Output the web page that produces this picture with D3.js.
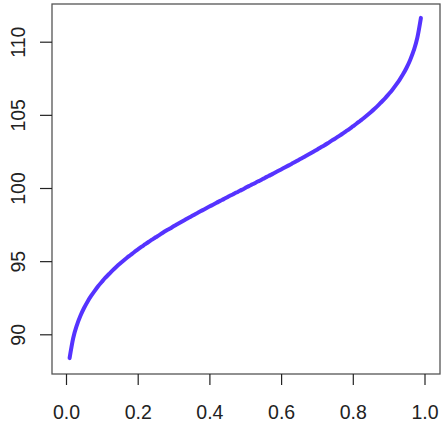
<!DOCTYPE html>
<html><head><meta charset="utf-8">
<script src="https://cdn.jsdelivr.net/npm/d3@7"></script>
<style>body{margin:0;background:#fff}svg{display:block}text{font-family:"Liberation Sans",Arial,sans-serif}</style>
</head><body>
<svg id="c" width="444" height="424"></svg>
<script>
const probs = [0.01,0.02,0.03,0.04,0.05,0.06,0.07,0.08,0.09,0.10,0.11,0.12,0.13,0.14,0.15,0.16,0.17,0.18,0.19,0.20,0.21,0.22,0.23,0.24,0.25,0.26,0.27,0.28,0.29,0.30,0.31,0.32,0.33,0.34,0.35,0.36,0.37,0.38,0.39,0.40,0.41,0.42,0.43,0.44,0.45,0.46,0.47,0.48,0.49,0.50,0.51,0.52,0.53,0.54,0.55,0.56,0.57,0.58,0.59,0.60,0.61,0.62,0.63,0.64,0.65,0.66,0.67,0.68,0.69,0.70,0.71,0.72,0.73,0.74,0.75,0.76,0.77,0.78,0.79,0.80,0.81,0.82,0.83,0.84,0.85,0.86,0.87,0.88,0.89,0.90,0.91,0.92,0.93,0.94,0.95,0.96,0.97,0.98,0.99];
const values = [88.37,89.73,90.60,91.25,91.78,92.23,92.62,92.97,93.30,93.59,93.87,94.12,94.37,94.60,94.82,95.03,95.23,95.42,95.61,95.79,95.97,96.14,96.31,96.47,96.63,96.78,96.94,97.09,97.23,97.38,97.52,97.66,97.80,97.94,98.07,98.21,98.34,98.47,98.60,98.73,98.86,98.99,99.12,99.24,99.37,99.50,99.62,99.75,99.87,100.00,100.13,100.25,100.38,100.50,100.63,100.76,100.88,101.01,101.14,101.27,101.40,101.53,101.66,101.79,101.93,102.06,102.20,102.34,102.48,102.62,102.77,102.91,103.06,103.22,103.37,103.53,103.69,103.86,104.03,104.21,104.39,104.58,104.77,104.97,105.18,105.40,105.63,105.88,106.13,106.41,106.70,107.03,107.38,107.77,108.22,108.75,109.40,110.27,111.63];
const xTicks = [0, 0.2, 0.4, 0.6, 0.8, 1.0];
const xTickLabels = ["0.0","0.2","0.4","0.6","0.8","1.0"];
const yTicks = [90, 95, 100, 105, 110];
const yTickLabels = ["90","95","100","105","110"];

const svg = d3.select("#c");
const box = {l:52, t:4, r:440, b:374};
const x = d3.scaleLinear().domain([0,1]).range([66, 424.5]);
const y = d3.scaleLinear().domain([90,110]).range([334.3, 41.7]);

// box
svg.append("rect").attr("x",box.l).attr("y",box.t)
  .attr("width",box.r-box.l).attr("height",box.b-box.t)
  .attr("fill","none").attr("stroke","#555").attr("stroke-width",1.3);

// x axis
const xAxis = d3.axisBottom(x).tickValues(xTicks).tickFormat((d,i)=>xTickLabels[i]).tickSize(11).tickPadding(20);
const gx = svg.append("g").attr("transform",`translate(0,${box.b})`).call(xAxis);
gx.select(".domain").remove();
gx.selectAll(".tick line").attr("stroke","#222").attr("stroke-width",1.2);
gx.selectAll(".tick text").attr("font-size",19.5).attr("fill","#222")
  .attr("font-family","'Liberation Sans',Arial,sans-serif");

// y axis
const yAxis = d3.axisLeft(y).tickValues(yTicks).tickFormat((d,i)=>yTickLabels[i]).tickSize(12).tickPadding(0);
const gy = svg.append("g").attr("transform",`translate(${box.l},0)`).call(yAxis);
gy.select(".domain").remove();
gy.selectAll(".tick line").attr("stroke","#222").attr("stroke-width",1.2);
gy.selectAll(".tick text").attr("font-size",19.5).attr("fill","#222")
  .attr("font-family","'Liberation Sans',Arial,sans-serif")
  .attr("x",0).attr("dy",0).attr("text-anchor","middle")
  .attr("transform","translate(-34,0) rotate(-90)")
  .attr("dominant-baseline","central");

// curve
const line = d3.line().x((d,i)=>x(probs[i])).y(d=>y(d)).curve(d3.curveMonotoneX);
svg.append("path").datum(values).attr("d",line)
  .attr("fill","none").attr("stroke","#5533ff").attr("stroke-width",4)
  .attr("stroke-linecap","round").attr("stroke-linejoin","round");
</script>
</body></html>
